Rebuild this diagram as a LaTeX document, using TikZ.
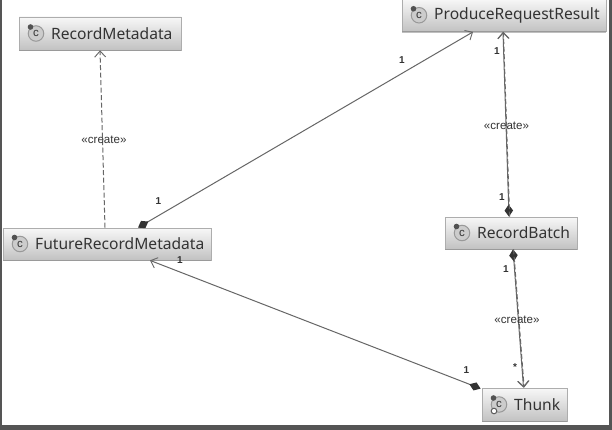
\documentclass[tikz,border=0pt]{standalone}
\usepackage{fontspec}
\setmainfont{Noto Sans}
\newfontfamily\labfont{Liberation Sans}
\usetikzlibrary{arrows.meta}
\definecolor{ink}{HTML}{333333}
\definecolor{edgeg}{HTML}{666666}
\definecolor{frameg}{HTML}{555555}
\tikzset{
  umlbox/.style={draw=black!32,line width=.8pt,top color=black!3,bottom color=black!24,inner sep=0pt,rectangle},
  boxtext/.style={anchor=west,inner sep=0pt,text=ink,font=\fontsize{15.6}{18}\selectfont},
  rel/.style={draw=edgeg,line width=1pt},
  dep/.style={rel,dash pattern=on 5pt off 2.5pt},
  openhead/.style={-{Straight Barb[length=6pt,width=11pt,line width=.9pt]}},
  diaopen/.style={{Diamond[length=12pt,width=8.5pt,fill=ink,color=ink]}-{Straight Barb[length=6pt,width=11pt,line width=.9pt]}},
  stereo/.style={inner sep=0pt,text=ink,font=\labfont\fontsize{11.6}{13}\selectfont},
  mult/.style={inner sep=0pt,text=ink,font=\labfont\bfseries\fontsize{10}{11}\selectfont},
  iconring/.style={circle,draw=black!40,line width=1pt,fill=black!20,minimum size=15.5pt,inner sep=0pt,text=ink,font=\labfont\fontsize{11.5}{11}\selectfont},
}
\newcommand{\umlclass}[6]{% name, x1, y1, x2, y2, label
  \node[umlbox,minimum width={(#4-#2)*1pt},minimum height={(#5-#3)*1pt}] (#1) at ({(#2+#4)/2},{(#3+#5)/2}) {};
  \fill[black!45,opacity=.55] (#2,#5) rectangle (#4,#5+1.2);
  \node[iconring] (#1ic) at (#2+17,{(#3+#5)/2}) {c};
  \fill[ink!85] (#2+11.5,{(#3+#5)/2-6.5}) circle (2.8);
  \node[boxtext,anchor=west] (#1tx) at (#2+32,{(#3+#5)/2}) {#6};
}
\begin{document}
\begin{tikzpicture}[x=1pt,y=-1pt]
\useasboundingbox (0,0) rectangle (612,430);
\fill[white] (0,0) rectangle (612,430);
\fill[frameg] (0,0) rectangle (1.5,430);
\fill[frameg] (609,0) rectangle (612,430);
\fill[frameg] (0,425) rectangle (612,430);

\umlclass{rm}{19}{17}{181}{50}{RecordMetadata}
\umlclass{prr}{402}{-1}{606}{31.5}{ProduceRequestResult}
\umlclass{rb}{445}{217}{577}{249}{RecordBatch}
\umlclass{th}{482}{388}{567}{421}{Thunk}
\umlclass{frm}{3}{228}{211}{260}{FutureRecordMetadata}

% small gear of the Thunk icon
\draw[ink!80,line width=1pt,fill=white] (494,411) circle (2.8);

% connectors
\draw[dep,openhead] ([xshift=-2pt]frm.north) -- (rm.south);
\draw[rel,diaopen] ([xshift=31pt]frm.north) -- ([xshift=-31pt]prr.south);
\draw[rel,diaopen] ([shift={(-1pt,-1pt)}]th.north west) -- ([xshift=43pt]frm.south);
\draw[rel,diaopen] ([xshift=-2pt]rb.north) -- ([xshift=-1pt]prr.south);
\draw[dep,openhead] ([xshift=-1.4pt]rb.north) -- ([xshift=-.6pt]prr.south);
\draw[rel,diaopen] ([xshift=2pt]rb.south) -- ([xshift=-1pt]th.north);
\draw[dep,openhead] ([xshift=2.6pt]rb.south) -- ([xshift=-.4pt]th.north);

% labels
\node[stereo] (s1) at (104,140) {«create»};
\node[stereo] (s2) at (506.5,126) {«create»};
\node[stereo] (s3) at (517,320) {«create»};
\node[mult] (m1) at (402,60) {1};
\node[mult] (m2) at (158.5,201) {1};
\node[mult] (m3) at (180,260) {1};
\node[mult] (m4) at (466.5,370) {1};
\node[mult] (m5) at (497,51) {1};
\node[mult] (m6) at (502,197) {1};
\node[mult] (m7) at (506,269) {1};
\node[mult] (m8) at (515,367) {*};
\end{tikzpicture}
\end{document}
